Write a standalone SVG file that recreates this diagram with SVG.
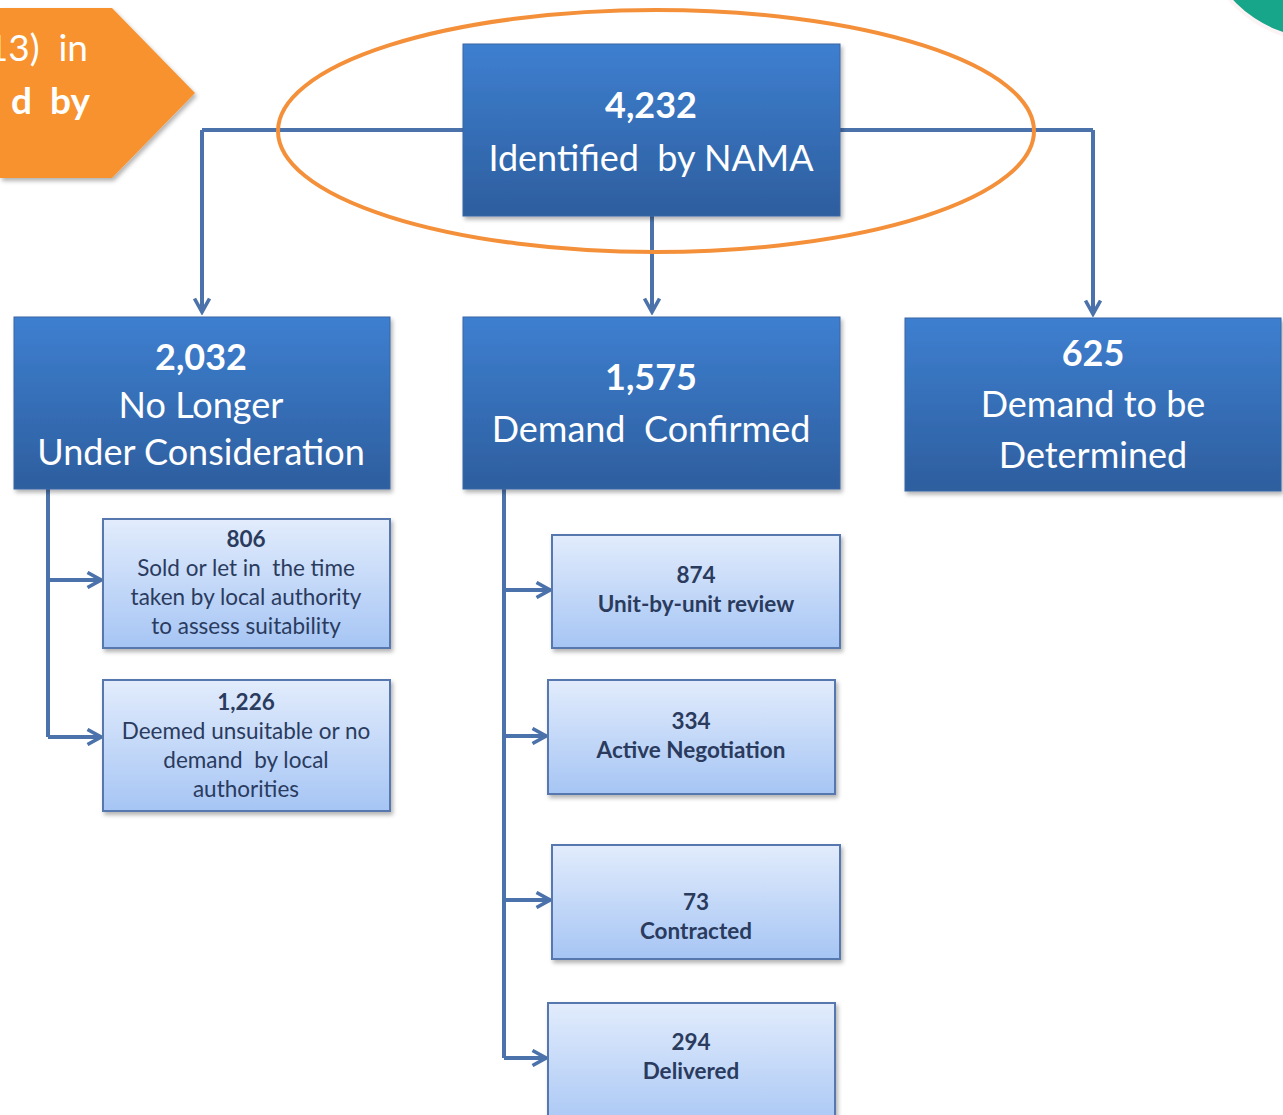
<svg xmlns="http://www.w3.org/2000/svg" width="1283" height="1115" viewBox="0 0 1283 1115">
<style>
text{white-space:pre}
.big{font-family:Lato,"Open Sans",sans-serif;fill:#fff;font-size:36px;text-anchor:middle}
.bold{font-weight:bold}
.small{font-family:Lato,"Open Sans",sans-serif;fill:#2a3b5e;font-size:22.5px;text-anchor:middle}
.dark{fill:url(#gDark);stroke:#3a66a6;stroke-width:1}
.light{fill:url(#gLight);stroke:#5678ae;stroke-width:2}
.conn{fill:none;stroke:#4b72aa;stroke-width:4;marker-end:url(#arr)}
.connplain{fill:none;stroke:#4b72aa;stroke-width:4}
</style>
<defs>
<linearGradient id="gDark" x1="0" y1="0" x2="0" y2="1">
<stop offset="0" stop-color="#3e7fd0"/>
<stop offset="1" stop-color="#2d5e9e"/>
</linearGradient>
<linearGradient id="gLight" x1="0" y1="0" x2="0" y2="1">
<stop offset="0" stop-color="#e2ecfc"/>
<stop offset="1" stop-color="#a6c5f4"/>
</linearGradient>
<filter id="sh" x="-5%" y="-5%" width="115%" height="120%">
<feDropShadow dx="2" dy="3" stdDeviation="2" flood-color="#000" flood-opacity="0.3"/>
</filter>
<marker id="arr" viewBox="0 0 12 12" refX="10" refY="6" markerWidth="18" markerHeight="18" markerUnits="userSpaceOnUse" orient="auto">
<path d="M1,1 L10,6 L1,11" fill="none" stroke="#4b72aa" stroke-width="2.4"/>
</marker>
</defs>
<rect width="1283" height="1115" fill="#fff"/>

<g id="banner">
<path d="M0,8 L112,8 L195,93 L112,178 L0,178 Z" fill="#f7922e" filter="url(#sh)"/>
<text x="88" y="61" font-family="Lato,'Open Sans',sans-serif" font-size="37" fill="#fff" text-anchor="end">13)  in</text>
<text x="90" y="114" font-family="Lato,'Open Sans',sans-serif" font-size="37" font-weight="bold" fill="#fff" text-anchor="end">d  by</text>
</g>
<g id="corner">
<circle cx="1320" cy="-80" r="122" fill="#fbeef0" opacity="0.7"/>
<circle cx="1320" cy="-80" r="118" fill="#17a68a"/>
</g>

<g id="connectors">
<path class="connplain" d="M202,130 H1093"/>
<path class="conn" d="M202,130 V312"/>
<path class="conn" d="M1093,130 V314"/>
<path class="conn" d="M652,216 V312"/>
<path class="connplain" d="M48,489 V737"/>
<path class="conn" d="M48,580 H101"/>
<path class="conn" d="M48,737 H101"/>
<path class="connplain" d="M504,489 V1058"/>
<path class="conn" d="M504,590 H550"/>
<path class="conn" d="M504,736 H546"/>
<path class="conn" d="M504,900 H550"/>
<path class="conn" d="M504,1058 H546"/>
</g>

<g id="n_identified">
<rect class="dark" x="463" y="44" width="377" height="172" filter="url(#sh)"/>
<text class="big bold" x="651" y="118">4,232</text>
<text class="big" x="651" y="171">Identified  by NAMA</text>
</g>
<g id="n_nolonger">
<rect class="dark" x="14" y="317" width="376" height="172" filter="url(#sh)"/>
<text class="big bold" x="201" y="370">2,032</text>
<text class="big" x="201" y="418">No Longer</text>
<text class="big" x="201" y="465">Under Consideration</text>
</g>
<g id="n_confirmed">
<rect class="dark" x="463" y="317" width="377" height="172" filter="url(#sh)"/>
<text class="big bold" x="651" y="390">1,575</text>
<text class="big" x="651" y="442">Demand  Confirmed</text>
</g>
<g id="n_tbd">
<rect class="dark" x="905" y="318" width="376" height="173" filter="url(#sh)"/>
<text class="big bold" x="1093" y="366">625</text>
<text class="big" x="1093" y="417">Demand to be</text>
<text class="big" x="1093" y="468">Determined</text>
</g>

<g id="n_806">
<rect class="light" x="103" y="519" width="287" height="129" filter="url(#sh)"/>
<text class="small bold" x="246" y="547">806</text>
<text class="small" x="246" y="576">Sold or let in  the time</text>
<text class="small" x="246" y="605">taken by local authority</text>
<text class="small" x="246" y="634">to assess suitability</text>
</g>
<g id="n_1226">
<rect class="light" x="103" y="680" width="287" height="131" filter="url(#sh)"/>
<text class="small bold" x="246" y="710">1,226</text>
<text class="small" x="246" y="739">Deemed unsuitable or no</text>
<text class="small" x="246" y="768">demand  by local</text>
<text class="small" x="246" y="797">authorities</text>
</g>
<g id="n_874">
<rect class="light" x="552" y="535" width="288" height="113" filter="url(#sh)"/>
<text class="small bold" x="696" y="583">874</text>
<text class="small bold" x="696" y="612">Unit-by-unit review</text>
</g>
<g id="n_334">
<rect class="light" x="548" y="680" width="287" height="114" filter="url(#sh)"/>
<text class="small bold" x="691" y="729">334</text>
<text class="small bold" x="691" y="758">Active Negotiation</text>
</g>
<g id="n_73">
<rect class="light" x="552" y="845" width="288" height="114" filter="url(#sh)"/>
<text class="small bold" x="696" y="910">73</text>
<text class="small bold" x="696" y="939">Contracted</text>
</g>
<g id="n_294">
<rect class="light" x="548" y="1003" width="287" height="130" filter="url(#sh)"/>
<text class="small bold" x="691" y="1050">294</text>
<text class="small bold" x="691" y="1079">Delivered</text>
</g>

<g id="highlight">
<ellipse cx="656" cy="131" rx="378" ry="121" fill="none" stroke="#f4903a" stroke-width="4"/>
</g>
</svg>
